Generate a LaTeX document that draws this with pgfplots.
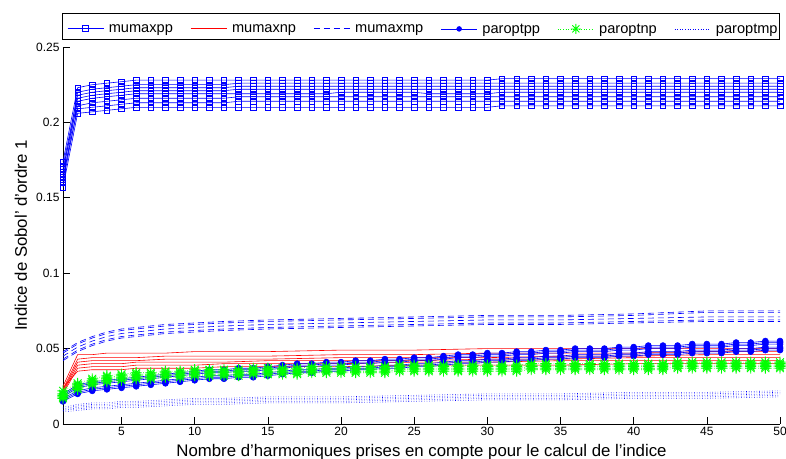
\documentclass[border=0pt]{standalone}
\usepackage{fontspec}
\setmainfont{Liberation Sans}
\usepackage{pgfplots}
\usepackage{pgfplotstable}
\pgfplotsset{compat=1.18}
\definecolor{mblue}{rgb}{0,0,1}
\definecolor{mred}{rgb}{1,0,0}
\definecolor{mgreen}{rgb}{0,1,0}
\pgfdeclareplotmark{mstar}{%
 \pgfpathmoveto{\pgfqpoint{0pt}{\pgfplotmarksize}}\pgfpathlineto{\pgfqpoint{0pt}{-\pgfplotmarksize}}%
 \pgfpathmoveto{\pgfqpoint{\pgfplotmarksize}{0pt}}\pgfpathlineto{\pgfqpoint{-\pgfplotmarksize}{0pt}}%
 \pgfpathmoveto{\pgfqpoint{.707\pgfplotmarksize}{.707\pgfplotmarksize}}\pgfpathlineto{\pgfqpoint{-.707\pgfplotmarksize}{-.707\pgfplotmarksize}}%
 \pgfpathmoveto{\pgfqpoint{.707\pgfplotmarksize}{-.707\pgfplotmarksize}}\pgfpathlineto{\pgfqpoint{-.707\pgfplotmarksize}{.707\pgfplotmarksize}}%
 \pgfusepathqstroke}

% legend samples (line style + marker of each series)
\newcommand{\legA}{\tikz[baseline=-0.3em]\draw[draw=mblue, line width=0.6pt, mark=square, mark size=2.8pt, mark options={draw=mblue}, mark repeat=2, mark phase=2] plot coordinates {(0pt,0pt) (18pt,0pt) (36pt,0pt)};}
\newcommand{\legB}{\tikz[baseline=-0.3em]\draw[draw=mred, line width=0.6pt] (0pt,0pt) -- (36pt,0pt);}
\newcommand{\legC}{\tikz[baseline=-0.3em]\draw[draw=mblue, line width=0.6pt, dash pattern=on 6pt off 4pt] (0pt,0pt) -- (36pt,0pt);}
\newcommand{\legD}{\tikz[baseline=-0.3em]\draw[draw=mblue, line width=0.6pt, mark=*, mark size=2.4pt, mark options={draw=mblue, fill=mblue}, mark repeat=2, mark phase=2] plot coordinates {(0pt,0pt) (18pt,0pt) (36pt,0pt)};}
\newcommand{\legE}{\tikz[baseline=-0.3em]\draw[draw=mgreen, line width=0.6pt, dash pattern=on 0.6pt off 2pt, mark=mstar, mark size=5pt, mark options={solid, draw=mgreen, line width=0.8pt}, mark repeat=2, mark phase=2] plot coordinates {(0pt,0pt) (18pt,0pt) (36pt,0pt)};}
\newcommand{\legF}{\tikz[baseline=-0.3em]\draw[draw=mblue, line width=0.6pt, dash pattern=on 0.6pt off 2pt] (0pt,0pt) -- (36pt,0pt);}

% mumaxpp (8 replicates)
\pgfplotstableread{
x a1 a2 a3 a4 a5 a6 a7 a8
1 0.174 0.166 0.171 0.162 0.169 0.160 0.164 0.157
2 0.223 0.220 0.218 0.216 0.214 0.211 0.209 0.206
3 0.225 0.222 0.220 0.218 0.216 0.213 0.210 0.207
4 0.226 0.223 0.221 0.219 0.217 0.214 0.211 0.208
5 0.227 0.224 0.222 0.220 0.218 0.215 0.212 0.209
6 0.228 0.225 0.223 0.221 0.219 0.216 0.213 0.210
7 0.228 0.225 0.223 0.221 0.219 0.216 0.213 0.210
8 0.228 0.225 0.223 0.221 0.219 0.216 0.213 0.210
9 0.228 0.225 0.223 0.221 0.219 0.216 0.213 0.210
10 0.228 0.225 0.223 0.221 0.219 0.216 0.213 0.210
11 0.228 0.225 0.223 0.221 0.219 0.216 0.213 0.210
12 0.228 0.225 0.223 0.221 0.219 0.216 0.213 0.210
13 0.228 0.226 0.224 0.222 0.219 0.217 0.214 0.210
14 0.228 0.226 0.224 0.222 0.219 0.217 0.214 0.210
15 0.228 0.226 0.224 0.222 0.219 0.217 0.214 0.210
16 0.228 0.226 0.224 0.222 0.219 0.217 0.214 0.210
17 0.228 0.226 0.224 0.222 0.219 0.217 0.214 0.210
18 0.228 0.226 0.224 0.222 0.219 0.217 0.214 0.210
19 0.228 0.226 0.224 0.222 0.219 0.217 0.214 0.210
20 0.228 0.226 0.224 0.222 0.220 0.217 0.214 0.210
21 0.228 0.226 0.224 0.222 0.220 0.217 0.214 0.210
22 0.228 0.226 0.224 0.222 0.220 0.217 0.214 0.210
23 0.228 0.226 0.224 0.222 0.220 0.217 0.214 0.210
24 0.228 0.226 0.224 0.222 0.220 0.217 0.214 0.210
25 0.228 0.226 0.224 0.222 0.220 0.217 0.214 0.210
26 0.228 0.226 0.224 0.222 0.219 0.217 0.214 0.210
27 0.228 0.226 0.224 0.222 0.219 0.217 0.214 0.210
28 0.228 0.226 0.224 0.222 0.219 0.217 0.214 0.210
29 0.228 0.226 0.224 0.222 0.219 0.217 0.214 0.210
30 0.228 0.226 0.224 0.222 0.219 0.217 0.214 0.210
31 0.229 0.226 0.224 0.222 0.220 0.217 0.214 0.211
32 0.229 0.226 0.224 0.222 0.220 0.217 0.214 0.211
33 0.229 0.226 0.224 0.222 0.220 0.217 0.214 0.211
34 0.229 0.226 0.224 0.222 0.220 0.217 0.214 0.211
35 0.229 0.226 0.224 0.222 0.220 0.217 0.214 0.211
36 0.229 0.226 0.224 0.222 0.220 0.217 0.214 0.211
37 0.229 0.226 0.224 0.222 0.220 0.217 0.214 0.211
38 0.229 0.226 0.224 0.222 0.220 0.217 0.214 0.211
39 0.229 0.226 0.224 0.222 0.220 0.217 0.214 0.211
40 0.229 0.226 0.224 0.222 0.220 0.217 0.214 0.211
41 0.229 0.226 0.224 0.222 0.220 0.217 0.214 0.211
42 0.229 0.226 0.224 0.222 0.220 0.217 0.214 0.211
43 0.229 0.226 0.224 0.222 0.220 0.217 0.214 0.211
44 0.229 0.226 0.224 0.222 0.220 0.217 0.214 0.211
45 0.229 0.226 0.224 0.222 0.220 0.217 0.214 0.211
46 0.229 0.226 0.224 0.222 0.220 0.217 0.214 0.211
47 0.229 0.226 0.224 0.222 0.220 0.217 0.214 0.211
48 0.229 0.226 0.224 0.222 0.220 0.217 0.214 0.211
49 0.229 0.226 0.224 0.222 0.220 0.217 0.214 0.211
50 0.229 0.226 0.224 0.222 0.220 0.217 0.214 0.211
}\tabA

% mumaxnp (6 replicates)
\pgfplotstableread{
x b1 b2 b3 b4 b5 b6
1 0.025 0.023 0.022 0.021 0.020 0.024
2 0.046 0.043 0.041 0.039 0.037 0.035
3 0.046 0.044 0.042 0.040 0.038 0.036
4 0.047 0.044 0.042 0.040 0.038 0.036
5 0.047 0.044 0.042 0.040 0.038 0.036
6 0.047 0.044 0.042 0.041 0.039 0.037
8 0.047 0.045 0.043 0.041 0.039 0.037
10 0.048 0.045 0.043 0.041 0.039 0.037
12 0.048 0.045 0.043 0.041 0.040 0.038
15 0.048 0.045 0.043 0.042 0.040 0.038
20 0.049 0.046 0.044 0.042 0.040 0.038
25 0.049 0.046 0.044 0.042 0.041 0.039
30 0.050 0.047 0.044 0.043 0.041 0.039
35 0.050 0.047 0.045 0.043 0.042 0.039
40 0.050 0.047 0.045 0.044 0.042 0.040
45 0.050 0.048 0.046 0.044 0.042 0.040
50 0.050 0.048 0.046 0.044 0.042 0.040
}\tabB

% mumaxmp (5 replicates)
\pgfplotstableread{
x c1 c2 c3 c4 c5
1 0.048 0.047 0.045 0.043 0.042
2 0.054 0.053 0.051 0.049 0.048
3 0.058 0.057 0.055 0.053 0.052
4 0.061 0.060 0.058 0.056 0.055
5 0.063 0.062 0.060 0.058 0.057
6 0.064 0.063 0.061 0.059 0.058
8 0.066 0.065 0.063 0.061 0.060
10 0.067 0.066 0.064 0.062 0.061
12 0.068 0.067 0.065 0.063 0.062
15 0.069 0.068 0.066 0.064 0.063
20 0.070 0.069 0.067 0.065 0.064
25 0.071 0.070 0.068 0.066 0.065
30 0.072 0.071 0.069 0.067 0.066
35 0.072 0.071 0.069 0.067 0.066
40 0.073 0.072 0.070 0.068 0.067
45 0.075 0.074 0.071 0.069 0.068
50 0.075 0.074 0.071 0.069 0.068
}\tabC

% paroptpp (6 replicates)
\pgfplotstableread{
x d1 d2 d3 d4 d5 d6
1 0.020 0.019 0.018 0.017 0.016 0.015
2 0.026 0.025 0.024 0.022 0.021 0.020
3 0.028 0.027 0.026 0.024 0.023 0.022
4 0.029 0.028 0.027 0.025 0.024 0.023
5 0.030 0.029 0.028 0.026 0.025 0.024
6 0.031 0.030 0.029 0.027 0.026 0.025
7 0.032 0.031 0.030 0.028 0.027 0.026
8 0.033 0.032 0.031 0.029 0.028 0.027
9 0.034 0.033 0.032 0.030 0.029 0.028
10 0.035 0.034 0.033 0.031 0.030 0.029
11 0.036 0.035 0.034 0.032 0.031 0.030
12 0.036 0.035 0.034 0.032 0.031 0.030
13 0.037 0.036 0.035 0.033 0.032 0.031
14 0.037 0.036 0.035 0.033 0.032 0.031
15 0.038 0.037 0.036 0.034 0.033 0.032
16 0.039 0.038 0.037 0.035 0.034 0.033
17 0.040 0.039 0.038 0.036 0.035 0.034
18 0.040 0.039 0.038 0.036 0.035 0.034
19 0.041 0.040 0.039 0.037 0.036 0.035
20 0.041 0.040 0.039 0.037 0.036 0.035
21 0.042 0.041 0.040 0.038 0.037 0.036
22 0.042 0.041 0.040 0.038 0.037 0.036
23 0.043 0.042 0.041 0.039 0.038 0.037
24 0.043 0.042 0.041 0.039 0.038 0.037
25 0.044 0.043 0.042 0.040 0.039 0.038
26 0.044 0.043 0.042 0.040 0.039 0.038
27 0.045 0.044 0.043 0.041 0.040 0.039
28 0.046 0.045 0.044 0.042 0.041 0.040
29 0.046 0.045 0.044 0.042 0.041 0.040
30 0.047 0.046 0.045 0.043 0.042 0.041
31 0.047 0.046 0.045 0.043 0.042 0.041
32 0.048 0.047 0.046 0.044 0.043 0.042
33 0.048 0.047 0.046 0.044 0.043 0.042
34 0.049 0.048 0.047 0.045 0.044 0.043
35 0.049 0.048 0.047 0.045 0.044 0.043
36 0.050 0.049 0.048 0.046 0.045 0.044
37 0.050 0.049 0.048 0.046 0.045 0.044
38 0.050 0.049 0.048 0.046 0.045 0.044
39 0.051 0.050 0.049 0.047 0.046 0.045
40 0.051 0.050 0.049 0.047 0.046 0.045
41 0.052 0.051 0.050 0.048 0.047 0.046
42 0.052 0.051 0.050 0.048 0.047 0.046
43 0.052 0.051 0.050 0.048 0.047 0.046
44 0.053 0.052 0.051 0.049 0.048 0.047
45 0.053 0.052 0.051 0.049 0.048 0.047
46 0.053 0.052 0.051 0.049 0.048 0.047
47 0.054 0.053 0.052 0.050 0.049 0.048
48 0.054 0.053 0.052 0.050 0.049 0.048
49 0.055 0.054 0.053 0.051 0.050 0.049
50 0.055 0.054 0.053 0.051 0.050 0.049
}\tabD

% paroptnp (5 replicates)
\pgfplotstableread{
x e1 e2 e3 e4 e5
1 0.022 0.020 0.019 0.018 0.017
2 0.027 0.026 0.025 0.024 0.023
3 0.030 0.029 0.028 0.027 0.026
4 0.032 0.031 0.030 0.029 0.028
5 0.033 0.032 0.031 0.030 0.029
6 0.034 0.033 0.032 0.031 0.030
7 0.034 0.033 0.032 0.031 0.030
8 0.035 0.034 0.033 0.032 0.031
9 0.035 0.034 0.033 0.032 0.031
10 0.036 0.035 0.034 0.033 0.032
11 0.036 0.035 0.034 0.033 0.032
12 0.036 0.035 0.034 0.033 0.032
13 0.036 0.035 0.034 0.033 0.032
14 0.037 0.036 0.035 0.034 0.033
15 0.037 0.036 0.035 0.034 0.033
16 0.037 0.036 0.035 0.034 0.033
17 0.037 0.036 0.035 0.034 0.033
18 0.038 0.037 0.036 0.035 0.034
19 0.038 0.037 0.036 0.035 0.034
20 0.038 0.037 0.036 0.035 0.034
21 0.038 0.037 0.036 0.035 0.034
22 0.038 0.037 0.036 0.035 0.034
23 0.038 0.037 0.036 0.035 0.034
24 0.039 0.038 0.037 0.036 0.035
25 0.039 0.038 0.037 0.036 0.035
26 0.039 0.038 0.037 0.036 0.035
27 0.039 0.038 0.037 0.036 0.035
28 0.039 0.038 0.037 0.036 0.035
29 0.039 0.038 0.037 0.036 0.035
30 0.039 0.038 0.037 0.036 0.035
31 0.039 0.038 0.037 0.036 0.035
32 0.039 0.038 0.037 0.036 0.035
33 0.040 0.039 0.038 0.037 0.036
34 0.040 0.039 0.038 0.037 0.036
35 0.040 0.039 0.038 0.037 0.036
36 0.040 0.039 0.038 0.037 0.036
37 0.040 0.039 0.038 0.037 0.036
38 0.040 0.039 0.038 0.037 0.036
39 0.040 0.039 0.038 0.037 0.036
40 0.040 0.039 0.038 0.037 0.036
41 0.040 0.039 0.038 0.037 0.036
42 0.040 0.039 0.038 0.037 0.036
43 0.041 0.040 0.039 0.038 0.037
44 0.041 0.040 0.039 0.038 0.037
45 0.041 0.040 0.039 0.038 0.037
46 0.041 0.040 0.039 0.038 0.037
47 0.041 0.040 0.039 0.038 0.037
48 0.041 0.040 0.039 0.038 0.037
49 0.041 0.040 0.039 0.038 0.037
50 0.041 0.040 0.039 0.038 0.037
}\tabE

% paroptmp (5 replicates)
\pgfplotstableread{
x f1 f2 f3 f4 f5
1 0.011 0.010 0.009 0.009 0.008
2 0.013 0.012 0.011 0.010 0.009
3 0.014 0.013 0.012 0.011 0.010
4 0.014 0.013 0.012 0.011 0.010
5 0.015 0.014 0.013 0.012 0.011
6 0.015 0.014 0.013 0.012 0.011
8 0.016 0.015 0.014 0.013 0.012
10 0.017 0.016 0.015 0.014 0.013
12 0.017 0.016 0.015 0.014 0.013
15 0.018 0.017 0.016 0.015 0.014
20 0.018 0.017 0.016 0.015 0.014
25 0.019 0.018 0.017 0.016 0.015
30 0.020 0.019 0.018 0.017 0.016
35 0.020 0.019 0.018 0.017 0.016
40 0.021 0.020 0.019 0.018 0.017
45 0.021 0.020 0.019 0.018 0.017
50 0.022 0.021 0.020 0.019 0.018
}\tabF

\tikzset{
  sA/.style={color=mblue, line width=0.6pt, mark=square, mark size=2.8pt, mark options={solid, draw=mblue}},
  sB/.style={color=mred, line width=0.6pt},
  sC/.style={color=mblue, line width=0.6pt, dash pattern=on 6pt off 4pt},
  sD/.style={color=mblue, line width=0.6pt, mark=*, mark size=3pt, mark options={solid, draw=mblue, fill=mblue}},
  sE/.style={color=mgreen, line width=0.6pt, dash pattern=on 0.6pt off 2pt, mark=mstar, mark size=5.5pt, mark options={solid, draw=mgreen, line width=0.9pt}},
  sF/.style={color=mblue, line width=0.6pt, dash pattern=on 0.6pt off 2pt},
}

\begin{document}
\begin{tikzpicture}
\begin{axis}[
  name=ax,
  scale only axis, width=717pt, height=377pt,
  xmin=1, xmax=50, ymin=0, ymax=0.25,
  clip=false,
  axis x line*=bottom, axis y line*=left,
  axis line style={black, line width=0.6pt, -},
  tick align=inside, major tick length=7pt,
  tick style={black, line width=0.6pt},
  xtick={5,10,...,50},
  ytick={0,0.05,0.1,0.15,0.2,0.25},
  yticklabels={0,0.05,0.1,0.15,0.2,0.25},
  scaled y ticks=false,
  /pgf/number format/assume math mode=true,
  ticklabel style={font=\fontsize{12}{14}\selectfont},
  xlabel={Nombre d'harmoniques prises en compte pour le calcul de l'indice},
  ylabel={Indice de Sobol' d'ordre 1},
  label style={font=\fontsize{16.8}{20}\selectfont},
  xlabel style={at={(axis description cs:0.5,0)}, anchor=center, yshift=-28pt},
  ylabel style={at={(axis description cs:-0.0586,0.5)}, anchor=center},
  legend columns=6,
  legend image code/.code={},
  legend style={at={(0,1)}, anchor=south west, xshift=-1pt, yshift=8pt,
    draw=none, fill=none, font=\fontsize{14.6}{18}\selectfont,
    /tikz/every odd column/.append style={column sep=0pt},
    /tikz/every even column/.append style={column sep=13.5pt}},
  legend cell align=left,
]
\addplot[sA] table[x=x,y=a1]{\tabA}; \addlegendentry{\legA\hspace{5pt}mumaxpp}
\pgfplotsinvokeforeach{2,...,8}{\addplot[sA,forget plot] table[x=x,y=a#1]{\tabA};}
\addplot[sB] table[x=x,y=b1]{\tabB}; \addlegendentry{\legB\hspace{5pt}mumaxnp}
\pgfplotsinvokeforeach{2,...,6}{\addplot[sB,forget plot] table[x=x,y=b#1]{\tabB};}
\addplot[sC] table[x=x,y=c1]{\tabC}; \addlegendentry{\legC\hspace{5pt}mumaxmp}
\pgfplotsinvokeforeach{2,...,5}{\addplot[sC,forget plot] table[x=x,y=c#1]{\tabC};}
\addplot[sD] table[x=x,y=d1]{\tabD}; \addlegendentry{\legD\hspace{5pt}paroptpp}
\pgfplotsinvokeforeach{2,...,6}{\addplot[sD,forget plot] table[x=x,y=d#1]{\tabD};}
\addplot[sE] table[x=x,y=e1]{\tabE}; \addlegendentry{\legE\hspace{5pt}paroptnp}
\pgfplotsinvokeforeach{2,...,5}{\addplot[sE,forget plot] table[x=x,y=e#1]{\tabE};}
\addplot[sF] table[x=x,y=f1]{\tabF}; \addlegendentry{\legF\hspace{5pt}paroptmp}
\pgfplotsinvokeforeach{2,...,5}{\addplot[sF,forget plot] table[x=x,y=f#1]{\tabF};}
\end{axis}
\draw[black, line width=0.5pt] ([shift={(-1pt,8pt)}]ax.north west) rectangle ([shift={(-1pt,34pt)}]ax.north east);
\pgfresetboundingbox
\path ([shift={(-63pt,-35pt)}]ax.south west) rectangle ([shift={(6pt,47pt)}]ax.north east);
\end{tikzpicture}
\end{document}
